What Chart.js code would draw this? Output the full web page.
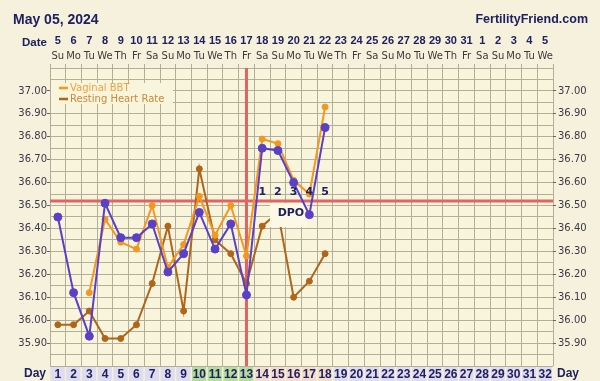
<!DOCTYPE html>
<html><head><meta charset="utf-8">
<script src="https://cdn.jsdelivr.net/npm/chart.js@4/dist/chart.umd.min.js"></script>
<style>html,body{margin:0;padding:0;background:#f5f1dc;}canvas{display:block}</style>
</head><body>
<canvas id="c" width="600" height="381"></canvas>
<script>
// ---- data ----
const cycleDays = ['1','2','3','4','5','6','7','8','9','10','11','12','13','14','15','16','17','18','19','20','21','22','23','24','25','26','27','28','29','30','31','32'];
const dateLabels = ['5','6','7','8','9','10','11','12','13','14','15','16','17','18','19','20','21','22','23','24','25','26','27','28','29','30','31','1','2','3','4','5'];
const weekdayLabels = ['Su','Mo','Tu','We','Th','Fr','Sa','Su','Mo','Tu','We','Th','Fr','Sa','Su','Mo','Tu','We','Th','Fr','Sa','Su','Mo','Tu','We','Th','Fr','Sa','Su','Mo','Tu','We'];
const temperature = [36.45,36.12,35.93,36.51,36.36,36.36,36.42,36.21,36.29,36.47,36.31,36.42,36.11,36.75,36.74,36.60,36.46,36.84];
const vaginalBBT = [null,null,36.12,36.44,36.34,36.31,36.50,36.23,36.33,36.54,36.37,36.50,36.28,36.79,36.77,36.61,36.55,36.93];
const restingHeartRate = [35.98,35.98,36.04,35.92,35.92,35.98,36.16,36.41,36.04,36.66,36.35,36.29,36.16,36.41,36.47,36.10,36.17,36.29];
const yTickLabels = ['37.00','36.90','36.80','36.70','36.60','36.50','36.40','36.30','36.20','36.10','36.00','35.90'];
const coverline = 36.52;
const ovulationDay = '13';
const fertileDays = ['10','11','12','13'];
const postOvulationDays = ['14','15','16','17','18'];
const dpoLabels = ['1','2','3','4','5'];

// ---- styles ----
const navy = '#202060';
const gridColor = '#b2ae98';
const F = '"DejaVu Sans", Verdana, sans-serif';
const FB = '"Liberation Sans", Arial, sans-serif';
const blue = '#5a40c8', orange = '#f5961e', brown = '#b0661a';
const yMin = 35.8, yMax = 37.1;
const yGrid = Array.from({length: 27}, (_, i) => +(yMin + i * 0.05).toFixed(2));

function yTicksBuild(s){ s.ticks = yGrid.map(v => ({value: v})); }
function yLabel(v){ const t = Number(v).toFixed(2); return yTickLabels.includes(t) ? t : ''; }
function yTickColor(ctx){ return yTickLabels.includes(Number(ctx.tick.value).toFixed(2)) ? '#666' : 'rgba(0,0,0,0)'; }

const decor = {
  id: 'decor',
  beforeDraw(chart){
    const {ctx, chartArea: a, scales: {x}} = chart;
    ctx.save();
    ctx.fillStyle = '#f5f1dc';
    ctx.fillRect(0, 0, chart.width, chart.height);
    ctx.fillStyle = '#f9f5dc';
    ctx.fillRect(a.left, a.top, a.right - a.left, a.bottom - a.top);
    const w = (x.getPixelForValue(1) - x.getPixelForValue(0));
    cycleDays.forEach((d, i) => {
      const px = x.getPixelForValue(i);
      ctx.fillStyle = fertileDays.includes(d) ? '#b4dc9c' : postOvulationDays.includes(d) ? '#f4dccb' : '#dedcef';
      ctx.fillRect(px - w / 2 + 0.5, a.bottom + 1, w - 1.5, chart.height - a.bottom - 1);
    });
    ctx.restore();
  },
  beforeDatasetsDraw(chart){
    const {ctx, chartArea: a, scales: {x, y}} = chart;
    ctx.save();
    const cy = y.getPixelForValue(coverline);
    ctx.strokeStyle = '#e06464';
    ctx.lineWidth = 3;
    ctx.beginPath(); ctx.moveTo(a.left, cy); ctx.lineTo(a.right, cy); ctx.stroke();
    const ox = x.getPixelForValue(cycleDays.indexOf(ovulationDay));
    ctx.beginPath(); ctx.moveTo(ox, a.top); ctx.lineTo(ox, a.bottom); ctx.stroke();
    // legend
    ctx.fillStyle = '#f9f5dc';
    ctx.fillRect(a.left + 1, 83, 122, 21);
    const items = [chart.data.datasets[1], chart.data.datasets[2]];
    ctx.font = '10px ' + F;
    ctx.textBaseline = 'middle';
    items.forEach((ds, i) => {
      const ly = 88 + i * 11;
      ctx.strokeStyle = ds.borderColor; ctx.lineWidth = 2.5;
      ctx.beginPath(); ctx.moveTo(59, ly); ctx.lineTo(68, ly); ctx.stroke();
      ctx.fillStyle = i === 0 ? '#f0a040' : '#c98a3a';
      ctx.fillText(ds.label, 70, ly);
    });
    ctx.restore();
  },
  afterDatasetDraw(chart, args){
    if (args.index !== 2) return;
    const {ctx, scales: {x}} = chart;
    ctx.save();
    const px = x.getPixelForValue(cycleDays.indexOf(postOvulationDays[1]));
    ctx.fillStyle = '#fbf8e6';
    ctx.fillRect(px - 8, 203, 37, 24);
    ctx.fillStyle = navy;
    ctx.font = 'bold 11px ' + F;
    ctx.textAlign = 'center'; ctx.textBaseline = 'middle';
    ctx.fillText('DPO', px + 13, 213);
    ctx.restore();
  },
  afterDatasetsDraw(chart){
    const {ctx, scales: {x}} = chart;
    ctx.save();
    ctx.fillStyle = navy;
    ctx.font = 'bold 11px ' + F;
    ctx.textAlign = 'center'; ctx.textBaseline = 'middle';
    postOvulationDays.forEach((d, i) => {
      ctx.fillText(dpoLabels[i], x.getPixelForValue(cycleDays.indexOf(d)), 192);
    });
    ctx.restore();
  },
  afterDraw(chart){
    const {ctx} = chart;
    ctx.save();
    ctx.fillStyle = navy;
    ctx.textBaseline = 'middle';
    ctx.font = 'bold 14px ' + FB;
    ctx.textAlign = 'left';
    ctx.fillText('May 05, 2024', 13, 20);
    ctx.font = 'bold 12.5px ' + FB;
    ctx.textAlign = 'right';
    ctx.fillText('FertilityFriend.com', 588, 20);
    ctx.font = 'bold 11.5px ' + FB;
    ctx.textAlign = 'left';
    ctx.fillText('Date', 22, 43);
    ctx.font = 'bold 12px ' + FB;
    ctx.textAlign = 'right';
    ctx.fillText('Day', 46, 374);
    ctx.textAlign = 'left';
    ctx.fillText('Day', 557, 374);
    ctx.restore();
  }
};

new Chart(document.getElementById('c'), {
  type: 'line',
  data: {
    labels: cycleDays,
    datasets: [
      {label: 'Temperature', data: temperature, borderColor: blue, backgroundColor: blue, borderWidth: 2, pointRadius: 4, pointBorderWidth: 1, pointBorderColor: blue},
      {label: 'Vaginal BBT', data: vaginalBBT, borderColor: orange, backgroundColor: orange, borderWidth: 2, pointRadius: 3, pointBorderWidth: 1},
      {label: 'Resting Heart Rate', data: restingHeartRate, borderColor: brown, backgroundColor: brown, borderWidth: 2, pointRadius: 3, pointBorderWidth: 1}
    ]
  },
  options: {
    responsive: false,
    animation: false,
    devicePixelRatio: 1,
    layout: {padding: {top: 30, left: 0, right: 0, bottom: 0}},
    plugins: {legend: {display: false}, tooltip: {enabled: false}},
    elements: {line: {tension: 0}},
    scales: {
      x: {type: 'category', position: 'bottom', offset: true,
        grid: {offset: true, color: gridColor, drawTicks: false, lineWidth: 1},
        border: {display: false},
        ticks: {font: {family: FB, size: 12, weight: 'bold'}, color: navy, padding: 1, autoSkip: false, maxRotation: 0},
        afterFit(s){ s.height = 15; }},
      xDow: {type: 'category', labels: weekdayLabels, position: 'top', weight: 0, offset: true,
        grid: {offset: true, drawOnChartArea: false, drawTicks: true, tickLength: 4, color: gridColor},
        border: {display: false},
        ticks: {font: {family: F, size: 10}, color: '#3a3a3a', padding: 2, autoSkip: false, maxRotation: 0},
        afterFit(s){ s.height = 20; }},
      xDate: {type: 'category', labels: dateLabels, position: 'top', weight: 1, offset: true,
        grid: {display: false, drawTicks: false},
        border: {display: false},
        ticks: {font: {family: FB, size: 11, weight: 'bold'}, color: navy, padding: 0, autoSkip: false, maxRotation: 0},
        afterFit(s){ s.height = 18; }},
      y: {position: 'left', min: yMin, max: yMax, afterBuildTicks: yTicksBuild,
        grid: {color: gridColor, tickLength: 3, tickColor: yTickColor},
        border: {display: false},
        ticks: {callback: yLabel, font: {family: F, size: 10}, color: '#3a3a48', padding: 0, autoSkip: false},
        afterFit(s){ s.width = 50; }},
      y2: {position: 'right', min: yMin, max: yMax, afterBuildTicks: yTicksBuild,
        grid: {drawOnChartArea: false, tickLength: 3, tickColor: yTickColor},
        border: {display: false},
        ticks: {callback: yLabel, font: {family: F, size: 10}, color: '#3a3a48', padding: 2, autoSkip: false},
        afterFit(s){ s.width = 47; }}
    }
  },
  plugins: [decor]
});
</script>
</body></html>
